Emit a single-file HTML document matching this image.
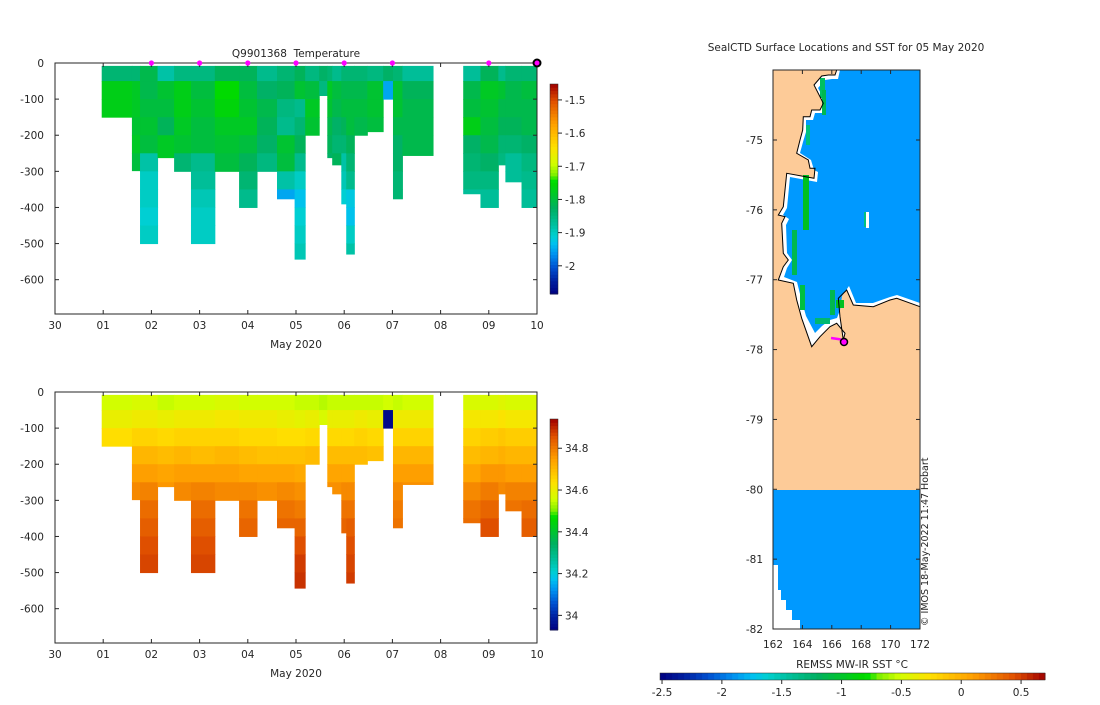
<!DOCTYPE html>
<html><head><meta charset="utf-8"><style>
body{margin:0;background:#fff;width:1100px;height:700px;overflow:hidden}
svg{font-family:"DejaVu Sans","Liberation Sans",sans-serif;font-size:10.5px;fill:#262626}
</style></head><body>
<svg id="s" width="1100" height="700" viewBox="0 0 1100 700" xmlns="http://www.w3.org/2000/svg"></svg>
<script>
// ---------- data ----------
const profStart=[0.969,1.596,1.764,2.128,2.471,2.821,3.316,3.819,4.191,4.606,4.971,5.190,5.481,5.649,5.751,5.940,6.042,6.210,6.480,6.808,7.012,7.208,8.469,8.827,9.198,9.344,9.679];
const profEnd=[1.596,1.764,2.128,2.471,2.821,3.316,3.819,4.191,4.606,4.971,5.190,5.481,5.649,5.751,5.940,6.042,6.210,6.480,6.808,7.012,7.208,7.843,8.827,9.198,9.344,9.679,10.0];
const profDepth=[150,298,504,262,301,504,301,404,301,376,543,201,90,262,282,390,529,201,190,101,376,256,362,404,282,329,404];
const tempProfiles=[
[-1.84,-1.77,-1.77],
[-1.84,-1.78,-1.78,-1.79,-1.78,-1.80],
[-1.81,-1.81,-1.80,-1.79,-1.80,-1.88,-1.90,-1.90,-1.91,-1.90],
[-1.88,-1.79,-1.80,-1.82,-1.78,-1.78],
[-1.85,-1.77,-1.77,-1.78,-1.79,-1.84],
[-1.85,-1.80,-1.79,-1.80,-1.80,-1.86,-1.87,-1.89,-1.90,-1.90],
[-1.82,-1.75,-1.76,-1.78,-1.79,-1.80],
[-1.82,-1.80,-1.79,-1.78,-1.80,-1.82,-1.84,-1.86],
[-1.86,-1.83,-1.81,-1.82,-1.83,-1.85],
[-1.84,-1.82,-1.85,-1.86,-1.79,-1.80,-1.88,-1.95],
[-1.82,-1.79,-1.86,-1.84,-1.82,-1.86,-1.90,-1.93,-1.91,-1.90,-1.89],
[-1.85,-1.80,-1.78,-1.79],
[-1.83,-1.85],
[-1.84,-1.78,-1.79,-1.81,-1.82,-1.83],
[-1.86,-1.80,-1.81,-1.83,-1.84,-1.82],
[-1.84,-1.81,-1.80,-1.82,-1.84,-1.88,-1.89,-1.91],
[-1.84,-1.81,-1.80,-1.80,-1.82,-1.84,-1.86,-1.92,-1.93,-1.90,-1.88],
[-1.84,-1.81,-1.80,-1.81],
[-1.85,-1.79,-1.79,-1.80],
[-1.83,-1.95],
[-1.84,-1.79,-1.79,-1.81,-1.83,-1.83,-1.84,-1.84],
[-1.87,-1.82,-1.81,-1.81,-1.81,-1.81],
[-1.87,-1.81,-1.80,-1.77,-1.83,-1.84,-1.85,-1.87],
[-1.82,-1.78,-1.79,-1.80,-1.81,-1.83,-1.85,-1.87],
[-1.86,-1.79,-1.81,-1.82,-1.84,-1.85],
[-1.84,-1.81,-1.81,-1.82,-1.84,-1.87,-1.87],
[-1.84,-1.80,-1.81,-1.81,-1.83,-1.85,-1.86,-1.87]];
const salProfiles=[
[34.56,34.60,34.64],
[34.57,34.61,34.66,34.71,34.75,34.78],
[34.57,34.61,34.66,34.71,34.75,34.79,34.82,34.84,34.86,34.87],
[34.55,34.60,34.65,34.70,34.74,34.76],
[34.56,34.61,34.66,34.71,34.75,34.78],
[34.56,34.61,34.66,34.70,34.75,34.79,34.82,34.84,34.86,34.87],
[34.57,34.62,34.66,34.71,34.75,34.78],
[34.56,34.61,34.65,34.70,34.74,34.78,34.81,34.83],
[34.56,34.61,34.65,34.69,34.74,34.77],
[34.56,34.60,34.64,34.69,34.74,34.78,34.81,34.83],
[34.55,34.59,34.64,34.69,34.73,34.77,34.80,34.83,34.86,34.88,34.89],
[34.55,34.60,34.65,34.70],
[34.54,34.57],
[34.55,34.60,34.65,34.70,34.74,34.77],
[34.55,34.60,34.65,34.70,34.74,34.77],
[34.55,34.60,34.65,34.70,34.74,34.78,34.81,34.83],
[34.55,34.60,34.65,34.70,34.74,34.78,34.81,34.84,34.86,34.87,34.88],
[34.55,34.61,34.66,34.70],
[34.55,34.60,34.65,34.69],
[34.56,33.95],
[34.55,34.61,34.66,34.71,34.75,34.78,34.80,34.81],
[34.56,34.61,34.66,34.71,34.75,34.77],
[34.57,34.62,34.66,34.70,34.74,34.78,34.81,34.82],
[34.57,34.62,34.67,34.71,34.76,34.80,34.83,34.86],
[34.58,34.63,34.68,34.72,34.76,34.78],
[34.57,34.62,34.67,34.71,34.75,34.79,34.81],
[34.57,34.62,34.67,34.71,34.75,34.79,34.82,34.84]];
const profileDays=[2,3,4,5,6,7,9];
const xTickLabels=["30","01","02","03","04","05","06","07","08","09","10"];
const yTickValues=[0,-100,-200,-300,-400,-500,-600];
const tempTicks=[-1.5,-1.6,-1.7,-1.8,-1.9,-2];
const salTicks=[34.8,34.6,34.4,34.2,34];
const lonTicks=[162,164,166,168,170,172];
const latTicks=[-75,-76,-77,-78,-79,-80,-81,-82];
const sstTicks=[-2.5,-2,-1.5,-1,-0.5,0,0.5];

// ---------- helpers ----------
const S=document.getElementById('s');const NS='http://www.w3.org/2000/svg';
function el(tag,at,parent){const e=document.createElementNS(NS,tag);for(const k in at)e.setAttribute(k,at[k]);(parent||S).appendChild(e);return e;}
function txt(x,y,s,anchor,extra){const t=el('text',Object.assign({x:x,y:y,'text-anchor':anchor||'middle'},extra||{}));t.textContent=s;return t;}
function cl(v){return Math.max(0,Math.min(1,v));}
const CMAP=[[0,0x00,0x00,0x80],[0.064,0x00,0x20,0xa0],[0.127,0x00,0x50,0xd0],[0.19,0x00,0x90,0xf0],[0.24,0x00,0xc0,0xf0],[0.28,0x00,0xd0,0xd0],[0.33,0x00,0xc0,0xa0],[0.41,0x00,0xb0,0x60],[0.525,0x00,0xd8,0x00],[0.54,0x00,0xe0,0x00],[0.57,0x80,0xf0,0x00],[0.62,0xd0,0xff,0x00],[0.70,0xff,0xe0,0x00],[0.81,0xff,0xa0,0x00],[0.92,0xe0,0x50,0x00],[1,0xa0,0x00,0x00]];
function jet(t){t=cl(t);for(let i=1;i<CMAP.length;i++){if(t<=CMAP[i][0]){const a=CMAP[i-1],b=CMAP[i],f=(t-a[0])/(b[0]-a[0]);return `rgb(${Math.round(a[1]+(b[1]-a[1])*f)},${Math.round(a[2]+(b[2]-a[2])*f)},${Math.round(a[3]+(b[3]-a[3])*f)})`;}}return 'rgb(160,0,0)';}

const X0=55,X1=537;
const xs=d=>X0+(X1-X0)*d/10;

function section(top,bottom,profiles,vmin,vmax,cbTop,cbBot,ticks,name,title){
  const ys=v=>top+(-v)*((bottom-top)/695);
  const g=el('g',{});
  
  
  profiles.forEach((p,i)=>{
    p.forEach((v,j)=>{
      const d0=Math.max(j*50,8),d1=Math.min((j+1)*50,profDepth[i]);
      if(d1<=d0)return;
      const r=el('rect',{x:xs(profStart[i]),y:ys(-d0),width:xs(profEnd[i])-xs(profStart[i])+0.5,height:ys(-d1)-ys(-d0)+0.5,fill:jet((v-vmin)/(vmax-vmin))},g);
      
      
    });
  });
  el('rect',{x:X0,y:top,width:X1-X0,height:bottom-top,fill:'none',stroke:'#262626','stroke-width':1},g);
  xTickLabels.forEach((l,i)=>{const x=xs(i);el('line',{x1:x,x2:x,y1:bottom,y2:bottom-4,stroke:'#262626'},g);el('line',{x1:x,x2:x,y1:top,y2:top+4,stroke:'#262626'},g);txt(x,bottom+15,l);});
  txt(296,bottom+34,'May 2020');
  yTickValues.forEach(v=>{const y=ys(v);el('line',{x1:X0,x2:X0+4,y1:y,y2:y,stroke:'#262626'},g);el('line',{x1:X1,x2:X1-4,y1:y,y2:y,stroke:'#262626'},g);txt(44,y+4,String(v),'end');});
  const n=64;for(let k=0;k<n;k++){const y=cbBot-(k+1)*(cbBot-cbTop)/n;el('rect',{x:550,y:y,width:8,height:(cbBot-cbTop)/n+0.5,fill:jet((k+0.5)/n)},g);}
  el('rect',{x:550,y:cbTop,width:8,height:cbBot-cbTop,fill:'none',stroke:'#262626','stroke-width':0.5},g);
  ticks.forEach(v=>{const y=cbBot-(v-vmin)/(vmax-vmin)*(cbBot-cbTop);el('line',{x1:558,x2:562,y1:y,y2:y,stroke:'#262626'},g);txt(565,y+4,String(v),'start');});
  if(title)txt(296,57,title);
  return ys;
}
section(63,314,tempProfiles,-2.085,-1.452,84,294,tempTicks,'temperature-section','Q9901368\u00a0\u00a0Temperature');
section(392,643,salProfiles,33.93,34.94,419,630,salTicks,'salinity-section',null);
profileDays.forEach(d=>{const c=el('circle',{cx:xs(d),cy:63,r:2.6,fill:'#ff00ff'});});
const cur=el('circle',{cx:xs(10),cy:63,r:3.5,fill:'#ff00ff',stroke:'#000','stroke-width':2});


// ---------- map ----------
const MX0=773,MX1=920,MY0=70,MY1=629;
const lonX=l=>MX0+(l-162)*(MX1-MX0)/10;
const latY=l=>140+(-75-l)*((629-140)/7);
const map=el('g',{});

el('rect',{x:MX0,y:MY0,width:MX1-MX0,height:MY1-MY0,fill:'#fdcb98'},map);
const coast="836.7,70 835,75 828.3,75 821.7,76 814,85 823.3,103.3 820,110 811.7,110 810,116.7 803.3,116.7 802.7,130 800,140 796.7,153.3 808.3,160 810,168.3 815,168.3 814,178.3 786.7,173.3 783.3,206.7 778.3,215 785,216.7 781.7,223.3 783.3,253.3 788.3,260 783.3,266.7 778.3,280 793.3,283.3 796.7,300 801.7,318.3 811.7,346.7 820,336.7 830,326.7 836.7,323.3 845,333.3 843.3,340 840,316.7 838.3,298.3 846.7,290 853.3,305 873.3,306.7 890,300 896.7,298.3 920,306.7";
el('polygon',{points:coast+" 920,70",fill:'#fff'},map);
const blueCoast="840,70 838,79 832,79 825,80 818,88 826,103 824,113 815,113 813,120 806,120 806,132 803,142 800,153 811,160 814,170 818,172 817,182 790,177 787,208 783,215 789,219 786,225 787,253 792,260 787,268 784,277 797,282 801,298 806,316 815,333 822,326 830,320 837,318 840,310 842,296 849,286 856,303 873,303 890,297 897,295 920,303";
el('polygon',{points:blueCoast+" 920,70",fill:'#0099ff'},map);
[[820,78,5,20,'#00c060'],[822,90,4,25,'#00b84f'],[806,125,4,20,'#00c080'],[803,175,6,55,'#00c020'],[792,230,5,45,'#00b850'],[800,285,5,25,'#00c040'],[830,290,5,25,'#00b850'],[836,300,8,8,'#00c020'],[815,318,15,6,'#00b870'],[864,212,3,15,'#00c080']].forEach(r=>{el('rect',{x:r[0],y:r[1],width:r[2],height:r[3],fill:r[4]},map);});
el('rect',{x:866,y:212,width:3,height:16,fill:'#fff'},map);
el('polyline',{points:coast,fill:'none',stroke:'#000','stroke-width':1},map);
el('rect',{x:MX0,y:490,width:MX1-MX0,height:MY1-490,fill:'#0099ff'},map);
el('polygon',{points:"773,565 778,565 778,590 781,590 781,600 786,600 786,610 792,610 792,620 800,620 800,629 773,629",fill:'#fff'},map);
el('polyline',{points:"831,338 838,339 844,340",fill:'none',stroke:'#ff00ff','stroke-width':2.5},map);
const loc=el('circle',{cx:844,cy:342,r:3.5,fill:'#ff00ff',stroke:'#000','stroke-width':1.5});

el('rect',{x:MX0,y:MY0,width:MX1-MX0,height:MY1-MY0,fill:'none',stroke:'#262626'},map);
lonTicks.forEach(l=>{const x=lonX(l);el('line',{x1:x,x2:x,y1:MY1,y2:MY1-4,stroke:'#262626'});el('line',{x1:x,x2:x,y1:MY0,y2:MY0+4,stroke:'#262626'});txt(x,MY1+19,String(l));});
latTicks.forEach(l=>{const y=latY(l);el('line',{x1:MX0,x2:MX0+4,y1:y,y2:y,stroke:'#262626'});el('line',{x1:MX1,x2:MX1-4,y1:y,y2:y,stroke:'#262626'});txt(763,y+4,String(l),'end');});
txt(846,51,'SealCTD Surface Locations and SST for 05 May 2020');
txt(0,0,'© IMOS 18-May-2022 11:47 Hobart','start',{transform:'translate(928,626) rotate(-90)','font-size':'9.5px'});
const smin=-2.517,smax=0.7,cx0=660,cx1=1045;
const sx=v=>cx0+(v-smin)/(smax-smin)*(cx1-cx0);
for(let k=0;k<64;k++){el('rect',{x:cx0+k*(cx1-cx0)/64,y:673,width:(cx1-cx0)/64+0.5,height:7,fill:jet((k+0.5)/64)});}
el('rect',{x:cx0,y:673,width:cx1-cx0,height:7,fill:'none',stroke:'#262626','stroke-width':0.5});
sstTicks.forEach(v=>{const x=sx(v);el('line',{x1:x,x2:x,y1:680,y2:684,stroke:'#262626'});txt(x,696,String(v));});
txt(852,668,'REMSS MW-IR SST °C');
</script>
</body></html>
